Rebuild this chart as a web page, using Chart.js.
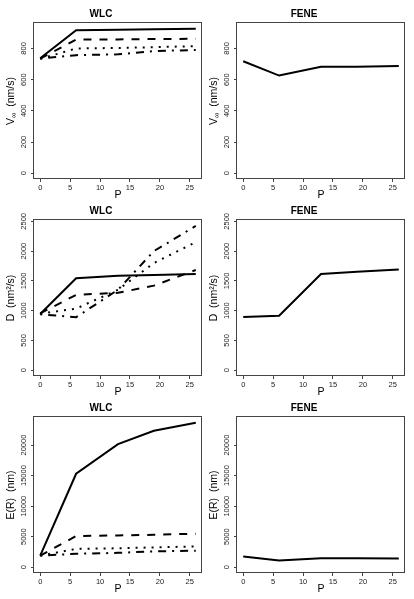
<!DOCTYPE html>
<html>
<head>
<meta charset="utf-8">
<script src="https://cdn.jsdelivr.net/npm/chart.js@4"></script>
<style>
body { margin: 0; background: #fff; }
#fig { position: relative; width: 414px; height: 599px; overflow: hidden; background: #fff; }
#fig canvas { position: absolute; }
</style>
</head>
<body>
<div id="fig"></div>
<script>
// P values shared by every curve
const pVals = [0, 6, 13, 19, 26];
const pTicks = [0, 5, 10, 15, 20, 25];

// terminal velocity V_inf (nm/s)
const vinfWlcSolid   = [737, 917, 920, 923, 926];
const vinfWlcDash    = [735, 857, 858, 860, 862];
const vinfWlcDot     = [733, 800, 803, 808, 815];
const vinfWlcDotDash = [735, 757, 762, 783, 790];
const vinfFene       = [718, 626, 683, 683, 688];
const vinfTicks = [0, 200, 400, 600, 800];

// diffusion D (nm^2/s)
const diffWlcSolid   = [943, 1543, 1588, 1600, 1617];
const diffWlcDash    = [955, 1265, 1300, 1420, 1683];
const diffWlcDot     = [950, 1035, 1350, 1800, 2150];
const diffWlcDotDash = [940, 890, 1350, 2000, 2422];
const diffFene       = [893, 915, 1615, 1655, 1693];
const diffTicks = [0, 500, 1000, 1500, 2000, 2500];

// extension E(R) (nm)
const extWlcSolid   = [1900, 15300, 20150, 22350, 23650];
const extWlcDash    = [1900, 5100, 5200, 5300, 5500];
const extWlcDot     = [1900, 3000, 3100, 3250, 3400];
const extWlcDotDash = [1900, 2200, 2350, 2600, 2700];
const extFene       = [1750, 1100, 1450, 1450, 1430];
const extTicks = [0, 5000, 10000, 15000, 20000];

const FONT = '"Liberation Sans", Arial, Helvetica, sans-serif';
const TICK_SIZE = 7.5;
const STYLES = [[], [8, 8], [2, 6], [2, 6, 8, 6]];

const meas = document.createElement('canvas').getContext('2d');
function yPad(ticks) {
	meas.font = TICK_SIZE + 'px ' + FONT;
	let w = 0;
	ticks.forEach(t => { w = Math.max(w, meas.measureText(String(t)).width); });
	return 7.5 - w / 2;
}

// R-like box round the plot region
const boxPlugin = {
	id: 'rbox',
	afterDraw(chart) {
		const a = chart.chartArea, ctx = chart.ctx;
		ctx.save();
		ctx.strokeStyle = '#444';
		ctx.lineWidth = 1;
		ctx.strokeRect(a.left - 0.5, a.top - 0.5, a.right - a.left, a.bottom - a.top);
		ctx.restore();
	}
};

// y axis title with a subscript part
const yLabPlugin = {
	id: 'yLab',
	afterDraw(chart, args, opts) {
		const a = chart.chartArea, ctx = chart.ctx;
		const big = '10.5px ' + FONT, small = '7.5px ' + FONT;
		ctx.save();
		ctx.translate(a.left - 23, (a.top + a.bottom) / 2);
		ctx.rotate(-Math.PI / 2);
		ctx.fillStyle = '#000';
		ctx.textBaseline = 'middle';
		ctx.textAlign = 'left';
		ctx.font = big;
		const w1 = ctx.measureText(opts.main).width;
		const w3 = ctx.measureText(opts.rest).width;
		ctx.font = small;
		const w2 = opts.sub ? ctx.measureText(opts.sub).width : 0;
		let x = -(w1 + w2 + w3) / 2;
		ctx.font = big;
		ctx.fillText(opts.main, x, 0);
		x += w1;
		if (opts.sub) {
			ctx.font = small;
			ctx.fillText(opts.sub, x, 3);
			x += w2;
		}
		ctx.font = big;
		ctx.fillText(opts.rest, x, 0);
		ctx.restore();
	}
};

function toPoints(vals) {
	return vals.map((v, i) => ({x: pVals[i], y: v}));
}

const panels = [
	{title: 'WLC',  lab: ['V', '\u221E', '  (nm/s)'], lines: [vinfWlcSolid, vinfWlcDash, vinfWlcDot, vinfWlcDotDash], yMin: -37, yMax: 963, yTicks: vinfTicks, left: 0, top: 0},
	{title: 'FENE', lab: ['V', '\u221E', '  (nm/s)'], lines: [vinfFene], yMin: -37, yMax: 963, yTicks: vinfTicks, left: 203, top: 0},
	{title: 'WLC',  lab: ['D', '', '  (nm\u00B2/s)'], lines: [diffWlcSolid, diffWlcDash, diffWlcDot, diffWlcDotDash], yMin: -97, yMax: 2522, yTicks: diffTicks, left: 0, top: 197},
	{title: 'FENE', lab: ['D', '', '  (nm\u00B2/s)'], lines: [diffFene], yMin: -97, yMax: 2522, yTicks: diffTicks, left: 203, top: 197},
	{title: 'WLC',  lab: ['E(R)', '', '  (nm)'], lines: [extWlcSolid, extWlcDash, extWlcDot, extWlcDotDash], yMin: -946, yMax: 24596, yTicks: extTicks, left: 0, top: 394},
	{title: 'FENE', lab: ['E(R)', '', '  (nm)'], lines: [extFene], yMin: -946, yMax: 24596, yTicks: extTicks, left: 203, top: 394}
];

function makePanel(p) {
	const cv = document.createElement('canvas');
	cv.width = 207;
	cv.height = 201;
	cv.style.left = p.left + 'px';
	cv.style.top = p.top + 'px';
	document.getElementById('fig').appendChild(cv);

	const datasets = p.lines.map((vals, i) => ({
		data: toPoints(vals),
		borderColor: '#000',
		borderWidth: 2,
		borderDash: STYLES[i],
		pointRadius: 0,
		tension: 0,
		fill: false
	}));

	new Chart(cv, {
		type: 'line',
		data: {datasets: datasets},
		options: {
			responsive: false,
			animation: false,
			events: [],
			devicePixelRatio: 1,
			layout: {padding: {left: 0, right: 5, top: 0, bottom: 0}},
			plugins: {
				legend: {display: false},
				tooltip: {enabled: false},
				title: {
					display: true, text: p.title, color: '#000',
					font: {family: FONT, size: 10, weight: 'bold'},
					padding: {top: 8.5, bottom: 2.5}
				},
				yLab: {main: p.lab[0], sub: p.lab[1], rest: p.lab[2]}
			},
			scales: {
				x: {
					type: 'linear', min: -1.04, max: 27.04,
					afterBuildTicks: s => { s.ticks = pTicks.map(v => ({value: v})); },
					afterFit: s => { s.height = 22; },
					grid: {drawOnChartArea: false, drawTicks: true, tickLength: 3, color: '#444'},
					border: {display: false},
					ticks: {font: {family: FONT, size: TICK_SIZE}, color: '#222', padding: 1, autoSkip: false, maxRotation: 0, callback: v => String(v)},
					title: {display: true, text: 'P', color: '#000', font: {family: FONT, size: 10.5}, padding: {top: 0, bottom: 0}}
				},
				y: {
					type: 'linear', min: p.yMin, max: p.yMax,
					afterBuildTicks: s => { s.ticks = p.yTicks.map(v => ({value: v})); },
					afterFit: s => { s.width = 34; },
					grid: {drawOnChartArea: false, drawTicks: true, tickLength: 3, color: '#444'},
					border: {display: false},
					ticks: {font: {family: FONT, size: TICK_SIZE}, color: '#222', padding: yPad(p.yTicks), autoSkip: false,
						minRotation: 90, maxRotation: 90, crossAlign: 'center', callback: v => String(v)}
				}
			}
		},
		plugins: [boxPlugin, yLabPlugin]
	});
}

document.addEventListener('DOMContentLoaded', () => panels.forEach(makePanel));
</script>
</body>
</html>
